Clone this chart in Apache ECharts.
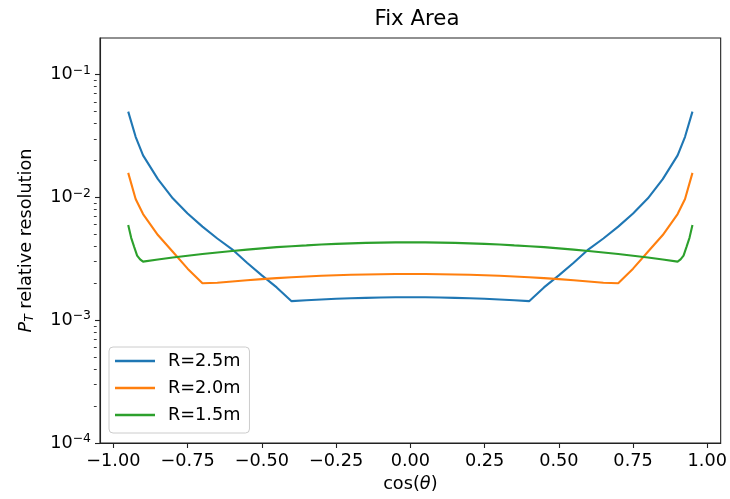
<!DOCTYPE html>
<html>
<head>
<meta charset="utf-8">
<script src="https://cdn.jsdelivr.net/npm/echarts@6/dist/echarts.min.js"></script>
<style>
html, body { margin: 0; padding: 0; background: #fff; }
#chart { width: 730px; height: 499px; }
</style>
</head>
<body>
<div id="chart"></div>
<script>
// --- DATEN ---
const cosGrid = [-0.95, -0.925, -0.9, -0.85, -0.8, -0.75, -0.7, -0.65, -0.6, -0.55, -0.5, -0.45, -0.4, -0.35, -0.3, -0.25, -0.2, -0.15, -0.1, -0.05, 0,
  0.05, 0.1, 0.15, 0.2, 0.25, 0.3, 0.35, 0.4, 0.45, 0.5, 0.55, 0.6, 0.65, 0.7, 0.75, 0.8, 0.85, 0.9, 0.925, 0.95];
const cosGreen = [-0.95, -0.94, -0.93, -0.92, -0.91, -0.9, -0.85, -0.8, -0.75, -0.7, -0.65, -0.6, -0.55, -0.5, -0.45, -0.4, -0.35, -0.3, -0.25, -0.2, -0.15, -0.1, -0.05, 0,
  0.05, 0.1, 0.15, 0.2, 0.25, 0.3, 0.35, 0.4, 0.45, 0.5, 0.55, 0.6, 0.65, 0.7, 0.75, 0.8, 0.85, 0.9, 0.91, 0.92, 0.93, 0.94, 0.95];

const resR25 = [0.0500, 0.0312, 0.0220, 0.0141, 0.00984, 0.0074, 0.00579, 0.00463, 0.00378, 0.00294, 0.00232, 0.00185, 0.00143, 0.001454, 0.001476, 0.001494, 0.00151, 0.001522, 0.001531, 0.001537, 0.001538,
  0.001537, 0.001531, 0.001522, 0.00151, 0.001494, 0.001476, 0.001454, 0.00143, 0.00185, 0.00232, 0.00294, 0.00378, 0.00463, 0.00579, 0.0074, 0.00984, 0.0141, 0.0220, 0.0312, 0.0500];
const resR20 = [0.01585, 0.00973, 0.00733, 0.00494, 0.00361, 0.00263, 0.00200, 0.002018, 0.00207, 0.002118, 0.002163, 0.002203, 0.002239, 0.00227, 0.002301, 0.002323, 0.002344, 0.00236, 0.002371, 0.002382, 0.002383,
  0.002382, 0.002371, 0.00236, 0.002344, 0.002323, 0.002301, 0.00227, 0.002239, 0.002203, 0.002163, 0.002118, 0.00207, 0.002018, 0.00200, 0.00263, 0.00361, 0.00494, 0.00733, 0.00973, 0.01585];
const resR15 = [0.00597, 0.00469, 0.00396, 0.00336, 0.00313, 0.00300, 0.00312, 0.00324, 0.00335, 0.00346, 0.00356, 0.00366, 0.00376, 0.00385, 0.00394, 0.00401, 0.00407, 0.00414, 0.00419, 0.00423, 0.00427, 0.00429, 0.00431, 0.00432,
  0.00431, 0.00429, 0.00427, 0.00423, 0.00419, 0.00414, 0.00407, 0.00401, 0.00394, 0.00385, 0.00376, 0.00366, 0.00356, 0.00346, 0.00335, 0.00324, 0.00312, 0.00300, 0.00313, 0.00336, 0.00396, 0.00469, 0.00597];

const xTicks = [-1, -0.75, -0.5, -0.25, 0, 0.25, 0.5, 0.75, 1];
const yTicks = [1e-4, 1e-3, 1e-2, 1e-1];
const yMinorTicks = [2e-4, 3e-4, 4e-4, 5e-4, 6e-4, 7e-4, 8e-4, 9e-4, 2e-3, 3e-3, 4e-3, 5e-3, 6e-3, 7e-3, 8e-3, 9e-3, 2e-2, 3e-2, 4e-2, 5e-2, 6e-2, 7e-2, 8e-2, 9e-2];

// --- STIL ---
const FONT = 'DejaVu Sans';
const FS = 17.7;
const colors = ['#1f77b4', '#ff7f0e', '#2ca02c'];
const GRID = { left: 100, top: 38, right: 6, bottom: 56 };
const plotWidth = 730 - GRID.left - GRID.right;

const chart = echarts.init(document.getElementById('chart'), null, { renderer: 'canvas' });

const pairs = (xs, ys) => xs.map((x, i) => [x, ys[i]]);
const lineSeries = (name, data, color) => ({
    name: name,
    type: 'line',
    data: data,
    symbol: 'none',
    showSymbol: false,
    color: color,
    lineStyle: { width: 2.1, color: color },
    xAxisIndex: 0,
    yAxisIndex: 0
});

chart.setOption({
    animation: false,
    backgroundColor: '#fff',
    textStyle: { fontFamily: FONT, color: '#000' },
    title: {
        text: 'Fix Area',
        left: 412, textAlign: 'center', top: 4,
        textStyle: { fontFamily: FONT, fontSize: 21.3, fontWeight: 'normal', color: '#000' }
    },
    grid: { ...GRID, show: true, borderColor: '#222', borderWidth: 1.1, backgroundColor: 'transparent' },
    legend: {
        orient: 'vertical',
        left: 109, top: 347,
        icon: 'rect',
        itemWidth: 40, itemHeight: 2.4,
        itemGap: 7,
        padding: [4, 9, 8, 6],
        backgroundColor: 'rgba(255,255,255,0.8)',
        borderColor: '#cccccc', borderWidth: 1, borderRadius: 4,
        textStyle: { fontFamily: FONT, fontSize: FS, color: '#000', lineHeight: 20, padding: [0, 0, 0, 8] },
        data: ['R=2.5m', 'R=2.0m', 'R=1.5m']
    },
    xAxis: {
        type: 'value',
        min: -1.045, max: 1.045,
        name: 'cos({it|θ})',
        nameLocation: 'middle', nameGap: 29,
        nameTextStyle: { fontFamily: FONT, fontSize: FS, color: '#000', rich: { it: { fontFamily: FONT, fontSize: FS, fontStyle: 'italic', color: '#000' } } },
        axisLine: { onZero: false, lineStyle: { color: '#222', width: 1.1 } },
        axisTick: { customValues: xTicks, length: 5, lineStyle: { color: '#222', width: 1.1 } },
        axisLabel: {
            customValues: xTicks, margin: 9,
            fontFamily: FONT, fontSize: FS, color: '#000',
            formatter: v => (v < 0 ? '\u2212' : '') + Math.abs(v).toFixed(2)
        },
        splitLine: { show: false }
    },
    yAxis: [{
        type: 'log', logBase: 10,
        min: 1e-4, max: 0.199,
        name: '{it|P}{sub|T} relative resolution',
        nameLocation: 'middle', nameGap: 64, nameRotate: 90,
        nameTextStyle: {
            fontFamily: FONT, fontSize: FS, color: '#000',
            rich: {
                it: { fontFamily: FONT, fontSize: FS, fontStyle: 'italic', color: '#000' },
                sub: { fontFamily: FONT, fontSize: 12.4, fontStyle: 'italic', color: '#000', padding: [7, 0, 0, 0] }
            }
        },
        axisLine: { onZero: false, lineStyle: { color: '#222', width: 1.1 } },
        axisTick: { customValues: yTicks, length: 5, lineStyle: { color: '#222', width: 1.1 } },
        axisLabel: {
            customValues: yTicks, margin: 9,
            fontFamily: FONT, fontSize: FS, color: '#000',
            formatter: v => '10{sup|\u2212' + Math.round(-Math.log10(v)) + '}',
            rich: { sup: { fontFamily: FONT, fontSize: 12.4, color: '#000', padding: [0, 0, 8, 0] } }
        },
        splitLine: { show: false }
    }, {
        // Minor Ticks: rechte Achse, nach links an den Plotrand verschoben
        type: 'log', logBase: 10,
        min: 1e-4, max: 0.199,
        position: 'right', offset: -plotWidth,
        axisLine: { show: false, onZero: false },
        axisTick: { show: true, inside: true, customValues: yMinorTicks, length: 2.8, lineStyle: { color: '#222', width: 0.9 } },
        axisLabel: { show: false },
        splitLine: { show: false }
    }],
    series: [
        lineSeries('R=2.5m', pairs(cosGrid, resR25), colors[0]),
        lineSeries('R=2.0m', pairs(cosGrid, resR20), colors[1]),
        lineSeries('R=1.5m', pairs(cosGreen, resR15), colors[2])
    ]
});
</script>
</body>
</html>
